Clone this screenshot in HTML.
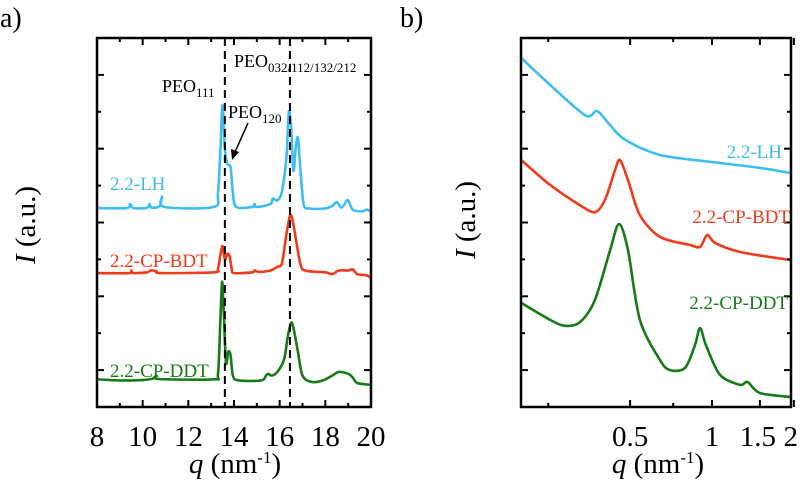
<!DOCTYPE html>
<html><head><meta charset="utf-8"><style>
html,body{margin:0;padding:0;background:#fff}
svg, svg text{font-family:"Liberation Serif","DejaVu Serif","Times New Roman",serif}
</style></head><body>
<svg id="fig" width="800" height="481" viewBox="0 0 800 481">
<text x="0" y="27" font-size="28">a)</text>
<text x="400" y="27" font-size="28">b)</text>
<g id="pa"></g>
<g id="pb"></g>
</svg>
<script>
const NS="http://www.w3.org/2000/svg";
// ---- Panel a data ----
const aXTicks=[8,10,12,14,16,18,20];
const aRefLines=[13.6,16.45];
const aLH=[[8,5.39],[9.3,5.39],[9.45,5.5],[9.6,5.39],[10.2,5.4],[10.3,5.5],[10.4,5.4],[10.75,5.45],[10.85,5.7],[10.95,5.42],[13.1,5.42],[13.3,5.8],[13.42,7.2],[13.5,8.18],[13.6,7.0],[13.7,6.6],[13.85,6.5],[13.95,5.8],[14.1,5.42],[14.8,5.42],[14.9,5.5],[15.0,5.42],[15.6,5.5],[15.7,5.65],[15.9,5.6],[16.1,5.85],[16.3,6.8],[16.4,8.0],[16.5,7.6],[16.6,6.4],[16.7,7.0],[16.8,7.3],[16.9,6.5],[17.05,5.5],[17.3,5.38],[18.0,5.38],[18.3,5.45],[18.5,5.55],[18.7,5.4],[18.9,5.55],[19.0,5.6],[19.2,5.35],[19.6,5.3],[19.8,5.35],[20,5.3]];
const aBDT=[[8,3.63],[9.4,3.63],[9.5,3.7],[9.6,3.63],[10.2,3.65],[10.35,3.7],[10.6,3.68],[10.8,3.63],[13.1,3.65],[13.3,3.75],[13.4,4.1],[13.5,4.36],[13.6,4.0],[13.7,4.15],[13.8,4.1],[13.9,3.75],[14.0,3.63],[14.8,3.65],[14.9,3.7],[15.1,3.66],[15.6,3.7],[15.9,3.8],[16.1,3.9],[16.3,4.7],[16.45,5.18],[16.55,5.1],[16.7,4.6],[16.9,3.9],[17.1,3.7],[18.0,3.65],[18.3,3.6],[18.6,3.7],[19.0,3.7],[19.2,3.73],[19.4,3.6],[19.8,3.57],[20,3.5]];
const aDDT=[[8,0.75],[9,0.72],[10,0.73],[10.5,0.78],[10.6,0.85],[10.7,0.76],[13.1,0.75],[13.3,0.9],[13.4,2.3],[13.48,3.39],[13.55,2.6],[13.65,1.2],[13.75,1.5],[13.85,1.4],[13.95,0.85],[14.2,0.72],[15.2,0.72],[15.4,0.85],[15.5,0.9],[15.65,0.85],[15.9,0.95],[16.2,1.3],[16.35,1.9],[16.5,2.28],[16.6,2.15],[16.8,1.5],[17.0,0.85],[17.4,0.68],[17.9,0.72],[18.3,0.85],[18.6,0.95],[19.0,0.9],[19.2,0.8],[19.4,0.65],[20,0.6]];
// ---- Panel b data ----
const bXTicks=[0.5,1,1.5,2];
const bXTickLabels=["0.5","1","1.5","2"];
const bMinorTicks=[0.25,0.72];
const bLH=[[0.199,9.46],[0.243,8.86],[0.341,7.91],[0.378,8.02],[0.422,7.64],[0.479,7.24],[0.644,6.83],[1.0,6.64],[1.5,6.48],[1.95,6.34]];
const bBDT=[[0.199,6.69],[0.254,6.02],[0.327,5.47],[0.371,5.28],[0.404,5.61],[0.440,6.42],[0.459,6.69],[0.491,6.15],[0.543,5.20],[0.644,4.61],[0.830,4.39],[0.904,4.34],[0.96,4.66],[1.03,4.44],[1.27,4.20],[1.95,3.98]];
const bDDT=[[0.199,2.82],[0.254,2.36],[0.288,2.20],[0.327,2.30],[0.371,2.90],[0.422,4.25],[0.455,4.96],[0.491,4.25],[0.543,2.36],[0.644,1.27],[0.701,1.00],[0.796,1.06],[0.866,1.68],[0.904,2.14],[0.95,1.68],[1.07,0.87],[1.27,0.60],[1.35,0.68],[1.50,0.38],[1.95,0.27]];

function el(parent,tag,attrs,text){const e=document.createElementNS(NS,tag);for(const k in attrs)e.setAttribute(k,attrs[k]);if(text!==undefined)e.textContent=text;parent.appendChild(e);return e;}
const T=38,B=407;
const ys=v=>B-(v/10)*(B-T);

// Panel a
const pa=document.getElementById('pa');
const aL=97,aR=371;
const xa=q=>aL+(q-8)/12*(aR-aL);
function pathOf(arr,xf){
 const P=arr.map(p=>[xf(p[0]),ys(p[1])]);
 let d='M'+P[0][0].toFixed(1)+','+P[0][1].toFixed(1);
 for(let i=0;i<P.length-1;i++){
  const p0=P[Math.max(0,i-1)],p1=P[i],p2=P[i+1],p3=P[Math.min(P.length-1,i+2)];
  const k=1/6*0.9;
  const c1=[p1[0]+(p2[0]-p0[0])*k,p1[1]+(p2[1]-p0[1])*k];
  const c2=[p2[0]-(p3[0]-p1[0])*k,p2[1]-(p3[1]-p1[1])*k];
  d+='C'+c1[0].toFixed(1)+','+c1[1].toFixed(1)+' '+c2[0].toFixed(1)+','+c2[1].toFixed(1)+' '+p2[0].toFixed(1)+','+p2[1].toFixed(1);
 }
 return d;
}
const cols={lh:"#3fbdf0",bdt:"#ee3b1b",ddt:"#177a17"};
[[aLH,cols.lh,'lh'],[aBDT,cols.bdt,'bdt'],[aDDT,cols.ddt,'ddt']].forEach(s=>{
 const p=el(pa,'path',{d:pathOf(s[0],xa),fill:'none',stroke:s[1],'stroke-width':2.6,'stroke-linejoin':'round'});
 
 
});
aRefLines.forEach(q=>{const l=el(pa,'line',{x1:xa(q),x2:xa(q),y1:T,y2:B,stroke:'#000','stroke-width':2,'stroke-dasharray':'8,5'});
 
 });
function frame(g,L,R,name){
 const r=el(g,'rect',{x:L,y:T,width:R-L,height:B-T,fill:'none',stroke:'#000','stroke-width':2.5});
 
 
 for(let i=1;i<10;i++){const y=T+i*(B-T)/10;const len=(i%2==1)?7:4;
  el(g,'line',{x1:L,x2:L+len,y1:y,y2:y,stroke:'#000','stroke-width':2});
  el(g,'line',{x1:R,x2:R-len,y1:y,y2:y,stroke:'#000','stroke-width':2});}
}
frame(pa,aL,aR,'plot-frame-a');
aXTicks.forEach(t=>{const x=xa(t);
 el(pa,'line',{x1:x,x2:x,y1:B,y2:B-7,stroke:'#000','stroke-width':2});
 el(pa,'line',{x1:x,x2:x,y1:T,y2:T+7,stroke:'#000','stroke-width':2});
 const tx=el(pa,'text',{x:x,y:446,'font-size':29,'text-anchor':'middle'},String(t));
 
 
 if(t<20){const xm=xa(t+1);el(pa,'line',{x1:xm,x2:xm,y1:B,y2:B-4,stroke:'#000','stroke-width':2});el(pa,'line',{x1:xm,x2:xm,y1:T,y2:T+4,stroke:'#000','stroke-width':2});}
});
</script>
<script>
(function(){
const pa=document.getElementById('pa');
function t(x,y,s,fill,anchor,name,html){const e=document.createElementNS(NS,'text');e.setAttribute('x',x);e.setAttribute('y',y);e.setAttribute('font-size',s);e.setAttribute('fill',fill);e.setAttribute('text-anchor',anchor);e.innerHTML=html;pa.appendChild(e);return e;}
t(235,473,29,'#000','middle','x-axis-title-a','<tspan font-style="italic">q</tspan> (nm<tspan dy="-10" font-size="17">-1</tspan><tspan dy="10">)</tspan>');
const yt=t(0,0,29,'#000','middle','y-axis-title-a','<tspan font-style="italic">I</tspan> (a.u.)');yt.setAttribute('transform','translate(35,225) rotate(-90)');
t(110,190,19,cols.lh,'start','label-a-lh','2.2-LH');
t(110,267,19,cols.bdt,'start','label-a-bdt','2.2-CP-BDT');
t(110,377,19,cols.ddt,'start','label-a-ddt','2.2-CP-DDT');
t(162,92,18,'#000','start','annotation-peo111','PEO<tspan dy="5" font-size="13">111</tspan>');
t(234,67,18,'#000','start','annotation-peo032','PEO<tspan dy="5" font-size="13">032/112/132/212</tspan>');
t(228,118,18,'#000','start','annotation-peo120','PEO<tspan dy="5" font-size="13">120</tspan>');
const a=el(pa,'line',{x1:248,y1:123,x2:235,y2:152,stroke:'#000','stroke-width':1.5});

el(pa,'path',{d:'M232,160 L231,149 L239,152 Z',fill:'#000'});

// Panel b
const pb=document.getElementById('pb');
const bL=521,bR=791;
const xb=q=>712+Math.log10(q)*272;
[[bLH,cols.lh,'lh'],[bBDT,cols.bdt,'bdt'],[bDDT,cols.ddt,'ddt']].forEach(s=>{
 const p=el(pb,'path',{d:pathOf(s[0],xb),fill:'none',stroke:s[1],'stroke-width':2.6,'stroke-linejoin':'round'});
 
 
});
frame(pb,bL,bR,'plot-frame-b');
bXTicks.forEach((q,i)=>{const x=xb(q);
 el(pb,'line',{x1:x,x2:x,y1:B,y2:B-7,stroke:'#000','stroke-width':2});
 el(pb,'line',{x1:x,x2:x,y1:T,y2:T+7,stroke:'#000','stroke-width':2});
 const last=i===bXTicks.length-1;
 const tx=el(pb,'text',{x:last?798:(i===2?x-2:x),y:446,'font-size':29,'text-anchor':last?'end':'middle'},bXTickLabels[i]);
 
 
});
bMinorTicks.forEach(q=>{const x=xb(q);el(pb,'line',{x1:x,x2:x,y1:B,y2:B-4,stroke:'#000','stroke-width':2});el(pb,'line',{x1:x,x2:x,y1:T,y2:T+4,stroke:'#000','stroke-width':2});});
function tb(x,y,s,fill,anchor,name,html){const e=document.createElementNS(NS,'text');e.setAttribute('x',x);e.setAttribute('y',y);e.setAttribute('font-size',s);e.setAttribute('fill',fill);e.setAttribute('text-anchor',anchor);e.innerHTML=html;pb.appendChild(e);return e;}
tb(658,473,29,'#000','middle','x-axis-title-b','<tspan font-style="italic">q</tspan> (nm<tspan dy="-10" font-size="17">-1</tspan><tspan dy="10">)</tspan>');
const yt2=tb(0,0,29,'#000','middle','y-axis-title-b','<tspan font-style="italic">I</tspan> (a.u.)');yt2.setAttribute('transform','translate(475,220) rotate(-90)');
tb(782,158,19,cols.lh,'end','label-b-lh','2.2-LH');
tb(790,223,19,cols.bdt,'end','label-b-bdt','2.2-CP-BDT');
tb(788,309,19,cols.ddt,'end','label-b-ddt','2.2-CP-DDT');
})();
</script>
</body></html>
